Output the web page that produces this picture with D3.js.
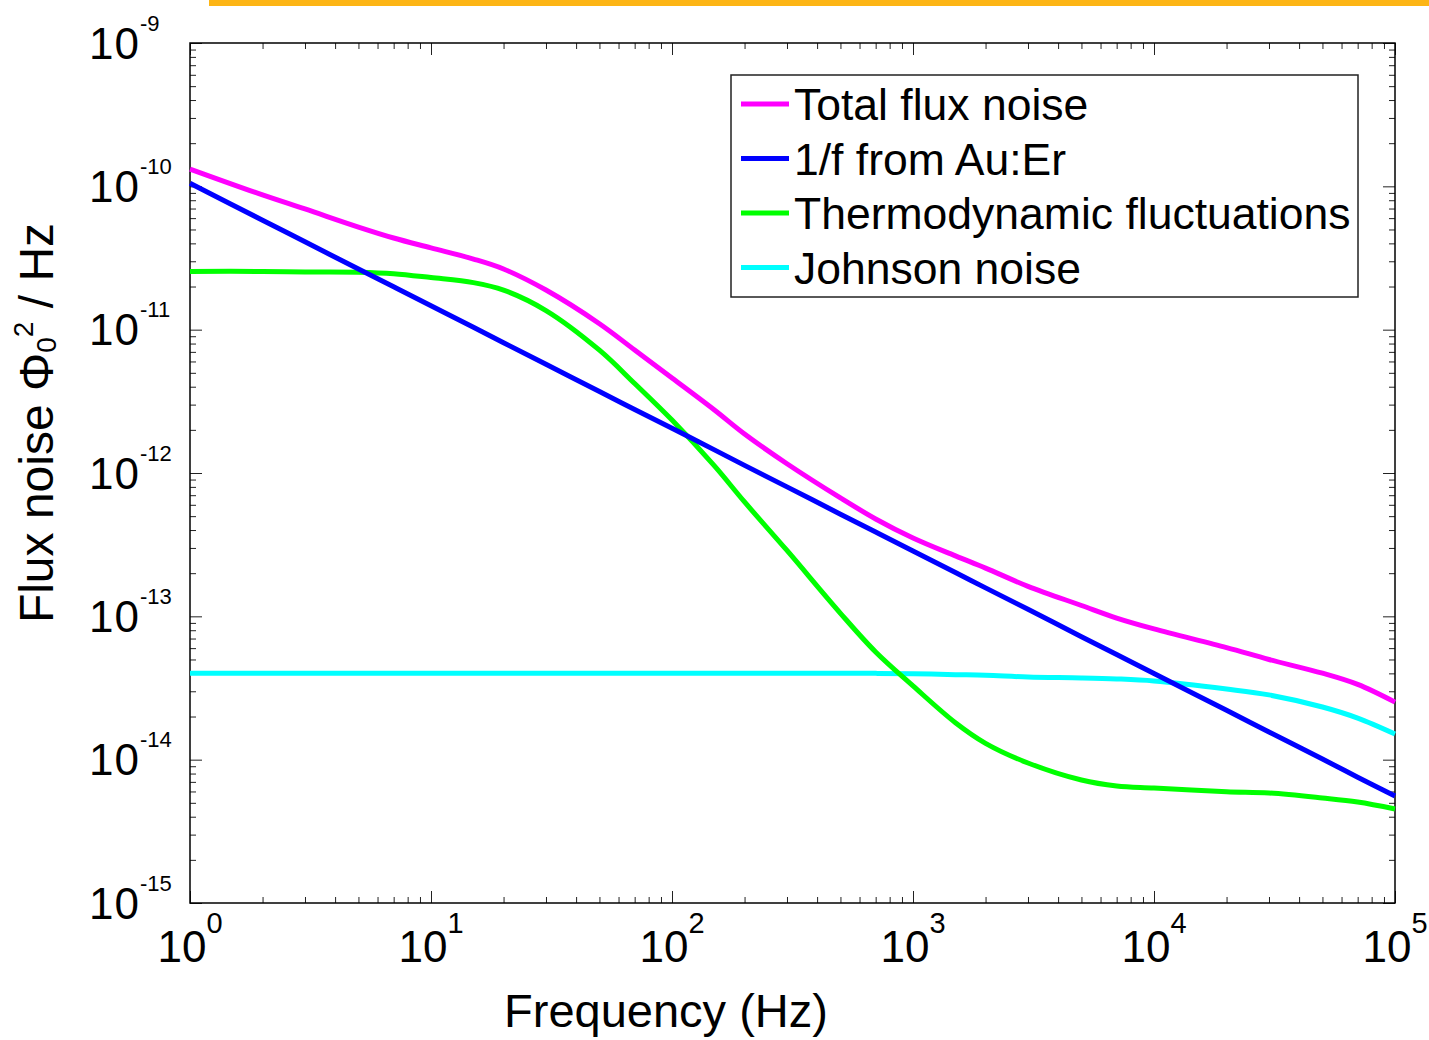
<!DOCTYPE html>
<html>
<head>
<meta charset="utf-8">
<script src="https://cdn.jsdelivr.net/npm/d3@7"></script>
<style>
  html, body { margin: 0; padding: 0; background: #fff; overflow: hidden; }
  svg { display: block; }
  text { font-family: "Liberation Sans", Arial, sans-serif; fill: #000; }
</style>
</head>
<body>
<div id="chart"></div>
<script>
// --------------------------------------
//  Data
// --------------------------------------

const freq = [1, 2, 3, 5, 7, 10, 15, 20, 30, 50, 70, 100, 150, 200, 300, 500, 700,
  1000, 1500, 2000, 3000, 5000, 7000, 1e4, 2e4, 3e4, 5e4, 7e4, 1e5];

const totalNoise = [1.32e-10, 8.71e-11, 6.95e-11, 5.20e-11, 4.36e-11, 3.72e-11, 3.11e-11,
  2.65e-11, 1.89e-11, 1.10e-11, 7.21e-12, 4.60e-12, 2.75e-12, 1.87e-12, 1.16e-12,
  6.70e-13, 4.78e-13, 3.52e-13, 2.64e-13, 2.17e-13, 1.62e-13, 1.19e-13, 9.73e-14,
  8.17e-14, 6.05e-14, 5.00e-14, 4.01e-14, 3.35e-14, 2.52e-14];

const auErNoise = [1.05e-10, 5.80e-11, 4.10e-11, 2.65e-11, 1.99e-11, 1.47e-11, 1.04e-11,
  8.11e-12, 5.73e-12, 3.70e-12, 2.77e-12, 2.05e-12, 1.45e-12, 1.13e-12, 8.00e-13,
  5.16e-13, 3.87e-13, 2.86e-13, 2.02e-13, 1.58e-13, 1.12e-13, 7.21e-14, 5.41e-14,
  3.99e-14, 2.21e-14, 1.56e-14, 1.01e-14, 7.55e-15, 5.57e-15];

const thermoNoise = [2.55e-11, 2.55e-11, 2.53e-11, 2.52e-11, 2.46e-11, 2.31e-11, 2.13e-11,
  1.89e-11, 1.36e-11, 7.19e-12, 4.21e-12, 2.34e-12, 1.12e-12, 6.28e-13, 2.88e-13,
  1.05e-13, 5.64e-14, 3.27e-14, 1.81e-14, 1.30e-14, 9.48e-15, 7.21e-15, 6.55e-15,
  6.34e-15, 5.97e-15, 5.85e-15, 5.40e-15, 5.06e-15, 4.53e-15];

const johnsonNoise = [4.0e-14, 4.0e-14, 4.0e-14, 4.0e-14, 4.0e-14, 4.0e-14, 4.0e-14,
  4.0e-14, 4.0e-14, 4.0e-14, 4.0e-14, 4.0e-14, 4.0e-14, 4.0e-14, 4.0e-14,
  4.0e-14, 4.0e-14, 3.98e-14, 3.92e-14, 3.88e-14, 3.77e-14, 3.72e-14, 3.66e-14,
  3.54e-14, 3.11e-14, 2.83e-14, 2.33e-14, 1.95e-14, 1.51e-14];

const seriesNames = ["Total flux noise", "1/f from Au:Er", "Thermodynamic fluctuations", "Johnson noise"];
const seriesColors = ["#ff00ff", "#0000ff", "#00ff00", "#00ffff"];

const xDecades = [0, 1, 2, 3, 4, 5];
const yDecades = [-15, -14, -13, -12, -11, -10, -9];

// --------------------------------------
//  Margin and canvas
// --------------------------------------

const margin = {top: 43, right: 34, bottom: 137, left: 190};
const width = 1429;
const height = 1040;
const innerWidth = width - margin.left - margin.right;
const innerHeight = height - margin.top - margin.bottom;

const svg = d3.select("#chart")
  .append("svg")
    .attr("width", width)
    .attr("height", height);

// orange strip along the top
svg.append("rect")
  .attr("x", 209)
  .attr("y", 0)
  .attr("width", width - 209)
  .attr("height", 6)
  .attr("fill", "#fdb515");

const inner = svg.append("g")
  .attr("transform", `translate(${margin.left}, ${margin.top})`);

// --------------------------------------
//  Scales
// --------------------------------------

const x = d3.scaleLog()
  .domain([1, 1e5])
  .range([0, innerWidth]);

const y = d3.scaleLog()
  .domain([1e-15, 1e-9])
  .range([innerHeight, 0]);

const xMajor = xDecades.map(d => Math.pow(10, d));
const xMinor = [];
xDecades.slice(0, -1).forEach(d => {
  for (let k = 2; k <= 9; k++) xMinor.push(k * Math.pow(10, d));
});
const yMajor = yDecades.map(d => Math.pow(10, d));
const yMinor = [];
yDecades.slice(0, -1).forEach(d => {
  for (let k = 2; k <= 9; k++) yMinor.push(k * Math.pow(10, d));
});

// --------------------------------------
//  Axes (ticks inward on all four sides)
// --------------------------------------

function drawAxis(axisFn, scale, values, size, transform) {
  const g = inner.append("g")
    .attr("transform", transform)
    .call(axisFn(scale).tickValues(values).tickSize(-size).tickFormat(""));
  g.select(".domain").remove();
  g.selectAll(".tick text").remove();
  g.selectAll(".tick line").attr("stroke", "#222").attr("stroke-width", 1);
}

[[xMajor, 12], [xMinor, 6]].forEach(([vals, s]) => {
  drawAxis(d3.axisBottom, x, vals, s, `translate(0, ${innerHeight})`);
  drawAxis(d3.axisTop, x, vals, s, `translate(0, 0)`);
});
[[yMajor, 12], [yMinor, 6]].forEach(([vals, s]) => {
  drawAxis(d3.axisLeft, y, vals, s, `translate(0, 0)`);
  drawAxis(d3.axisRight, y, vals, s, `translate(${innerWidth}, 0)`);
});

// frame
inner.append("rect")
  .attr("width", innerWidth)
  .attr("height", innerHeight)
  .attr("fill", "none")
  .attr("stroke", "#000")
  .attr("stroke-width", 1.5);

// x tick labels
xDecades.forEach(d => {
  const t = inner.append("text")
    .attr("x", x(Math.pow(10, d)))
    .attr("y", innerHeight + 59)
    .attr("text-anchor", "middle")
    .style("font-size", "44px");
  t.append("tspan").text("10");
  t.append("tspan").attr("dy", -29).style("font-size", "29px").text(d);
});

// y tick labels
yDecades.forEach(d => {
  const t = inner.append("text")
    .attr("x", 89 - margin.left)
    .attr("y", y(Math.pow(10, d)) + 15.6)
    .style("font-size", "44px")
    .style("letter-spacing", "1px");
  t.append("tspan").text("10");
  t.append("tspan").attr("dy", -28).style("font-size", "22px").style("letter-spacing", "0px").text(d);
});

// axis titles
svg.append("text")
  .attr("x", 666)
  .attr("y", 1027)
  .attr("text-anchor", "middle")
  .style("font-size", "47px")
  .text("Frequency (Hz)");

const yTitle = svg.append("text")
  .attr("transform", "translate(53, 423) rotate(-90)")
  .attr("text-anchor", "middle")
  .style("font-size", "48px");
yTitle.append("tspan").text("Flux noise \u03a6");
yTitle.append("tspan").attr("dy", 3).style("font-size", "28px").text("0");
yTitle.append("tspan").attr("dy", -23).style("font-size", "28px").text("2");
yTitle.append("tspan").attr("dy", 20).text(" / Hz");

// --------------------------------------
//  Lines
// --------------------------------------

const allSeries = [totalNoise, auErNoise, thermoNoise, johnsonNoise];

const lineGenerator = d3.line()
  .x(d => x(d[0]))
  .y(d => y(d[1]))
  .curve(d3.curveCatmullRom.alpha(0.5));

// draw back to front so the total ends on top like the original
[3, 2, 1, 0].forEach(i => {
  inner.append("path")
    .attr("d", lineGenerator(freq.map((f, j) => [f, allSeries[i][j]])))
    .attr("fill", "none")
    .attr("stroke", seriesColors[i])
    .attr("stroke-width", 5)
    .attr("stroke-linejoin", "round");
});

// --------------------------------------
//  Legend
// --------------------------------------

const legend = svg.append("g");

legend.append("rect")
  .attr("x", 731)
  .attr("y", 75)
  .attr("width", 627)
  .attr("height", 222)
  .attr("fill", "#fff")
  .attr("stroke", "#222")
  .attr("stroke-width", 1.5);

seriesNames.forEach((name, i) => {
  const yy = 104 + i * 54.5;
  legend.append("line")
    .attr("x1", 741)
    .attr("x2", 789)
    .attr("y1", yy)
    .attr("y2", yy)
    .attr("stroke", seriesColors[i])
    .attr("stroke-width", 5);
  legend.append("text")
    .attr("x", 794)
    .attr("y", yy + 16)
    .style("font-size", "44.5px")
    .text(name);
});
</script>
</body>
</html>
